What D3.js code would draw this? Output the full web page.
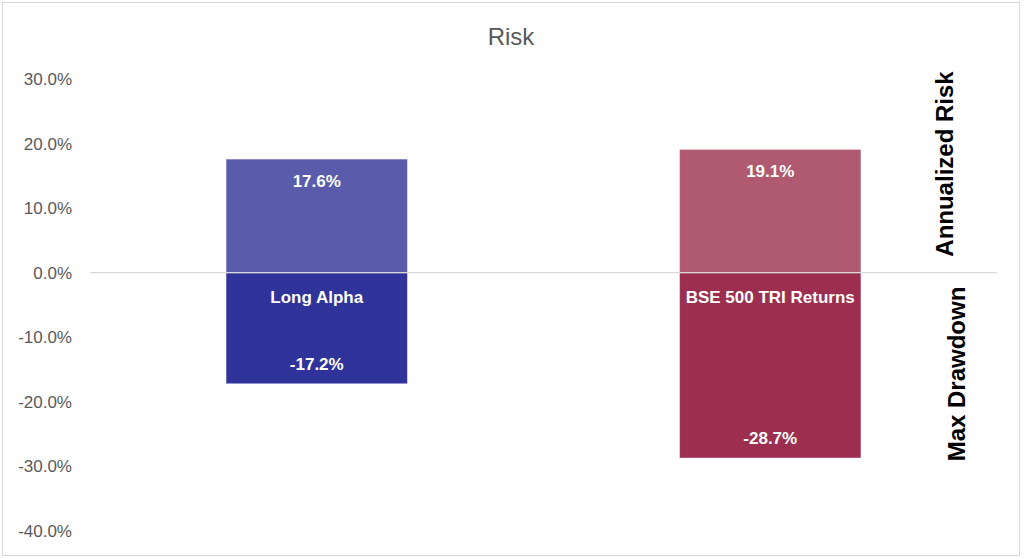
<!DOCTYPE html>
<html lang="en">
<head>
  <meta charset="utf-8">
  <title>Risk</title>
<style>
body {
  margin: 0;
  background: #fff;
}
svg {
  display: block;
  font-family: "Liberation Sans", Arial, sans-serif;
}
</style>
</head>
<body>
<div id="app"></div>
<script src="https://d3js.org/d3.v7.min.js"></script>
<script>
// values
const categories = ["Long Alpha", "BSE 500 TRI Returns"]
const annualizedRisk = [0.176, 0.191]
const maxDrawdown = [-0.172, -0.287]
const yTicks = [0.3, 0.2, 0.1, 0, -0.1, -0.2, -0.3, -0.4]
const seriesNames = ["Annualized Risk", "Max Drawdown"]
const riskColors = ["#5b5bab", "#b05a71"]
const drawdownColors = ["#303399", "#9c2f4f"]

const width = 1024,
      height = 559,
      margin = ({top: 79, right: 27, bottom: 28, left: 90})

const x = d3.scaleBand()
    .domain(categories)
    .range([margin.left, width - margin.right])
    .paddingInner(0.6)
    .paddingOuter(0.3)

const y = d3.scaleLinear()
    .domain([-0.4, 0.3])
    .range([height - margin.bottom, margin.top])

// plain hyphen for negatives, like the original
const fmt = v => d3.format(".1%")(v).replace("\u2212", "-")

const svg = d3.select("#app").append("svg")
    .attr("width", width)
    .attr("height", height)
    .attr("viewBox", [0, 0, width, height])

// chart frame
svg.append("rect")
    .attr("x", 2.5)
    .attr("y", 2.5)
    .attr("width", 1017)
    .attr("height", 553)
    .attr("fill", "#fff")
    .attr("stroke", "#d9d9d9")

svg.append("text")
    .attr("x", 511)
    .attr("y", 45)
    .attr("text-anchor", "middle")
    .attr("fill", "#595959")
    .style("font-size", "24px")
    .text("Risk")

// y axis labels only
svg.append("g")
    .attr("transform", `translate(72,0)`)
    .call(d3.axisLeft(y).tickValues(yTicks).tickFormat(fmt).tickSize(0).tickPadding(0))
    .call(g => g.select(".domain").remove())
    .call(g => g.selectAll("text")
        .attr("fill", "#595959")
        .style("font-size", "17px")
        .style("font-family", "'Liberation Sans', Arial, sans-serif"))

const rows = categories.map((c, i) => ({
  cat: c, risk: annualizedRisk[i], dd: maxDrawdown[i], i
}))

// positive bars
svg.append("g")
  .selectAll("rect")
  .data(rows)
  .join("rect")
    .attr("x", d => x(d.cat))
    .attr("y", d => y(d.risk))
    .attr("width", x.bandwidth())
    .attr("height", d => y(0) - y(d.risk))
    .attr("fill", d => riskColors[d.i])
    .attr("stroke", "rgba(255,255,255,0.45)")

// negative bars
svg.append("g")
  .selectAll("rect")
  .data(rows)
  .join("rect")
    .attr("x", d => x(d.cat))
    .attr("y", y(0))
    .attr("width", x.bandwidth())
    .attr("height", d => y(d.dd) - y(0))
    .attr("fill", d => drawdownColors[d.i])
    .attr("stroke", "rgba(255,255,255,0.45)")

// zero line
svg.append("line")
    .attr("x1", margin.left)
    .attr("x2", width - margin.right)
    .attr("y1", y(0))
    .attr("y2", y(0))
    .attr("stroke", "#d9d9d9")
    .attr("stroke-width", 1.3)

const labels = svg.append("g")
    .attr("fill", "#fff")
    .attr("text-anchor", "middle")
    .style("font-weight", "bold")
    .style("font-size", "17px")

labels.selectAll(".risk")
  .data(rows)
  .join("text")
    .attr("class", "risk")
    .attr("x", d => x(d.cat) + x.bandwidth() / 2)
    .attr("y", d => y(d.risk) + 28)
    .text(d => fmt(d.risk))

labels.selectAll(".dd")
  .data(rows)
  .join("text")
    .attr("class", "dd")
    .attr("x", d => x(d.cat) + x.bandwidth() / 2)
    .attr("y", d => y(d.dd) - 14)
    .text(d => fmt(d.dd))

labels.selectAll(".cat")
  .data(rows)
  .join("text")
    .attr("class", "cat")
    .attr("x", d => x(d.cat) + x.bandwidth() / 2)
    .attr("y", y(0) + 30)
    .text(d => d.cat)

// series titles on the right, rotated
const side = [
  {name: seriesNames[0], x: 953, y: 164},
  {name: seriesNames[1], x: 965, y: 374}
]
svg.append("g")
  .selectAll("text")
  .data(side)
  .join("text")
    .attr("transform", d => `translate(${d.x},${d.y}) rotate(-90)`)
    .attr("text-anchor", "middle")
    .attr("fill", "#000")
    .style("font-weight", "bold")
    .style("font-size", "24px")
    .text(d => d.name)
</script>
</body>
</html>
